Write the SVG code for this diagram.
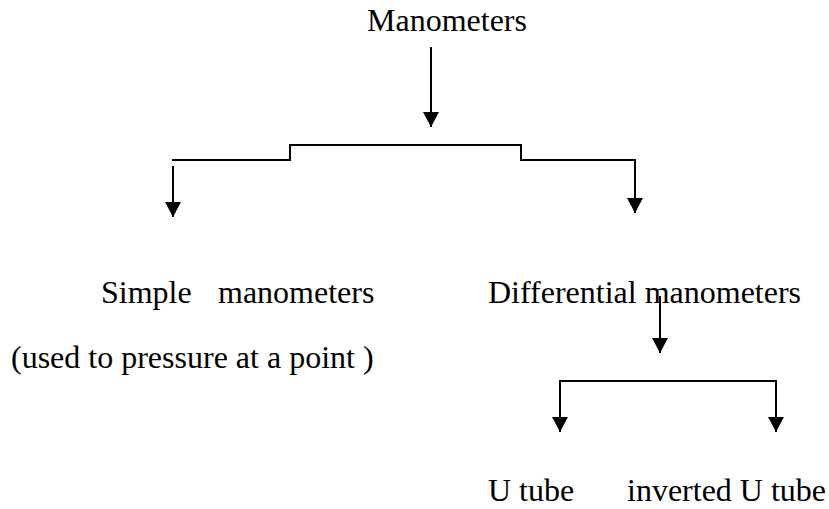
<svg xmlns="http://www.w3.org/2000/svg" width="829" height="509" viewBox="0 0 829 509">
  <style>
    .label { font-family: "Liberation Serif", "Times New Roman", serif; font-size: 32px; fill: #000; }
    .wire { fill: none; stroke: #000; stroke-width: 2; }
  </style>
  <defs>
    <marker id="head" viewBox="0 0 15 16" refX="15" refY="8" markerWidth="15" markerHeight="16" markerUnits="userSpaceOnUse" orient="auto">
      <path d="M0,0 L15,8 L0,16 Z" fill="#000"/>
    </marker>
  </defs>
  <rect width="829" height="509" fill="#fff"/>

  <!-- nodes -->
  <g id="manometers">
    <text class="label" x="367" y="31">Manometers</text>
  </g>
  <g id="simple">
    <text class="label" y="303"><tspan x="101">Simple</tspan><tspan x="218">manometers</tspan></text>
    <text class="label" x="11" y="368">(used to pressure at a point )</text>
  </g>
  <g id="differential">
    <text class="label" x="488" y="303">Differential manometers</text>
  </g>
  <g id="u-tube">
    <text class="label" x="488" y="501">U tube</text>
  </g>
  <g id="inverted-u-tube">
    <text class="label" x="627" y="501">inverted U tube</text>
  </g>

  <!-- connectors -->
  <g id="connectors">
    <path class="wire" d="M431,47 V127" marker-end="url(#head)"/>
    <path class="wire" d="M172,160 H290 V145 H521 V160 H635 V213" marker-end="url(#head)"/>
    <path class="wire" d="M173,166 V217" marker-end="url(#head)"/>
    <path class="wire" d="M660,296 V353" marker-end="url(#head)"/>
    <path class="wire" d="M560,432 V381 H776 V432" marker-end="url(#head)"/>
    <path class="wire" d="M560,381 V432" marker-end="url(#head)"/>
  </g>
</svg>
